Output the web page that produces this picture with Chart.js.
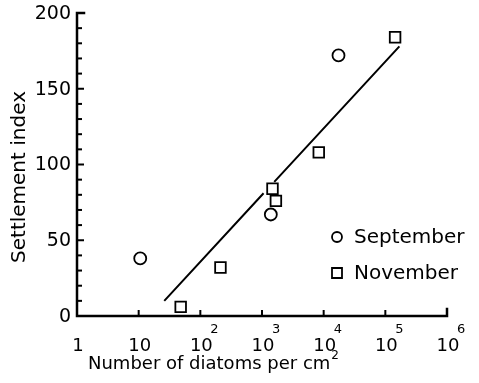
<!DOCTYPE html>
<html><head><meta charset="utf-8">
<script src="https://cdn.jsdelivr.net/npm/chart.js@4"></script>
<style>html,body{margin:0;padding:0;background:#fff}#wrap{width:479px;height:383px}</style>
</head><body><div id="wrap"><canvas id="c" width="479" height="383"></canvas></div>
<script>
// Data
const septX = [10.6, 1390, 17400];
const septY = [38, 67, 172];
const novX = [48, 212, 1480, 1680, 8330, 144000];
const novY = [6, 32, 84, 76, 108, 184];
const fitX = [26, 1060, 1270, 1580, 169000];
const fitY = [10, 81, null, 88.5, 178];
const yTicks = [0, 50, 100, 150, 200];
const xTicks = [1, 10, 100, 1000, 10000, 100000, 1000000];
const xTickBase = ['1', '10', '10', '10', '10', '10', '10'];
const xTickExp = ['', '', '2', '3', '4', '5', '6'];
const legendLabels = ['September', 'November'];
const xTitle = 'Number of diatoms per cm';
const xTitleSup = '2';
const yTitle = 'Settlement index';

const pts = (xs, ys) => xs.map((x, i) => ({x: x, y: ys[i]}));
const FONT = '"DejaVu Sans", sans-serif';

const decor = {
  id: 'decor',
  afterDraw(chart) {
    const ctx = chart.ctx, xs = chart.scales.x, ys = chart.scales.y;
    const L = xs.getPixelForValue(1), R = xs.getPixelForValue(1e6);
    const B = ys.getPixelForValue(0), T = ys.getPixelForValue(200);
    ctx.save();
    ctx.strokeStyle = '#000'; ctx.fillStyle = '#000';
    // axes
    ctx.lineWidth = 2.5; ctx.lineCap = 'square';
    ctx.beginPath();
    ctx.moveTo(L + 7, T); ctx.lineTo(L, T); ctx.lineTo(L, B); ctx.lineTo(R, B); ctx.lineTo(R, B - 7);
    ctx.stroke();
    ctx.lineCap = 'butt';
    // y ticks (inward)
    for (let v = 10; v < 200; v += 10) {
      const y = ys.getPixelForValue(v);
      ctx.lineWidth = 2;
      ctx.beginPath(); ctx.moveTo(L, y); ctx.lineTo(L + (v % 50 === 0 ? 7 : 5), y); ctx.stroke();
    }
    // x ticks (inward)
    xTicks.forEach((v, i) => {
      if (i === 0 || i === xTicks.length - 1) return;
      const x = xs.getPixelForValue(v);
      ctx.lineWidth = 2;
      ctx.beginPath(); ctx.moveTo(x, B); ctx.lineTo(x, B - 6); ctx.stroke();
    });
    // y labels
    ctx.font = '19px ' + FONT; ctx.textAlign = 'right'; ctx.textBaseline = 'middle';
    yTicks.forEach(v => ctx.fillText(String(v), L - 6, ys.getPixelForValue(v) + 1));
    // x labels
    xTicks.forEach((v, i) => {
      const x = xs.getPixelForValue(v);
      ctx.font = '18px ' + FONT; ctx.textAlign = 'center'; ctx.textBaseline = 'middle';
      ctx.fillText(xTickBase[i], x + 1, 346);
      if (xTickExp[i]) {
        ctx.font = '13px ' + FONT; ctx.textAlign = 'left';
        ctx.fillText(xTickExp[i], x + 10, 330);
      }
    });
    // x title
    ctx.font = '18px ' + FONT; ctx.textAlign = 'left'; ctx.textBaseline = 'middle';
    ctx.fillText(xTitle, 88, 364);
    const w = ctx.measureText(xTitle).width;
    ctx.font = '12px ' + FONT;
    ctx.fillText(xTitleSup, 88 + w + 1, 356);
    // y title
    ctx.save();
    ctx.translate(20, 177); ctx.rotate(-Math.PI / 2);
    ctx.font = '20px ' + FONT; ctx.textAlign = 'center'; ctx.textBaseline = 'middle';
    ctx.fillText(yTitle, 0, 0);
    ctx.restore();
    // legend
    ctx.lineWidth = 1.8; ctx.fillStyle = '#fff';
    ctx.beginPath(); ctx.arc(337, 237, 5, 0, Math.PI * 2); ctx.fill(); ctx.stroke();
    ctx.beginPath(); ctx.rect(332, 268, 10, 10); ctx.fill(); ctx.stroke();
    ctx.fillStyle = '#000';
    ctx.font = '20px ' + FONT; ctx.textAlign = 'left'; ctx.textBaseline = 'middle';
    ctx.fillText(legendLabels[0], 354, 238);
    ctx.fillText(legendLabels[1], 354, 274);
    ctx.restore();
  }
};

new Chart(document.getElementById('c'), {
  type: 'scatter',
  data: {
    datasets: [
      {label: 'fit', type: 'line', data: pts(fitX, fitY), borderColor: '#000', borderWidth: 2,
       pointRadius: 0, spanGaps: false, fill: false, tension: 0},
      {label: legendLabels[0], data: pts(septX, septY), pointStyle: 'circle', pointRadius: 6,
       borderColor: '#000', backgroundColor: '#fff', borderWidth: 1.8},
      {label: legendLabels[1], data: pts(novX, novY), pointStyle: 'rect', pointRadius: 7.5,
       borderColor: '#000', backgroundColor: '#fff', borderWidth: 1.8}
    ]
  },
  options: {
    responsive: false, animation: false, devicePixelRatio: 1,
    layout: {padding: {left: 77, right: 32, top: 13, bottom: 67}},
    plugins: {legend: {display: false}, tooltip: {enabled: false}},
    scales: {
      x: {type: 'logarithmic', min: 1, max: 1e6, display: false},
      y: {type: 'linear', min: 0, max: 200, display: false}
    }
  },
  plugins: [decor]
});
</script></body></html>
